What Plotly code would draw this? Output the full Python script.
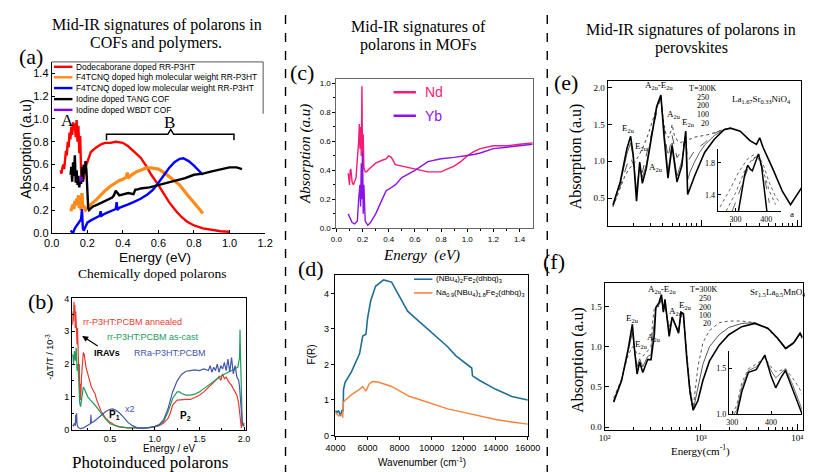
import plotly.graph_objects as go

# ================= DATA =================
# (a) chemically doped polarons
a_red_x = [0.050,0.055,0.060,0.065,0.070,0.075,0.080,0.085,0.090,0.095,0.100,0.105,0.110,0.115,0.120,0.125,0.130,0.135,0.140,0.145,0.150,0.155,0.160,0.165,0.170,0.175,0.180,0.190,
           0.20,0.22,0.25,0.28,0.30,0.33,0.36,0.40,0.43,0.46,0.50,0.53,0.56,0.60,0.63,0.66,0.70,0.73,0.76,0.80,0.85,0.90,0.95,1.00]
a_red_y = [0.55,0.52,0.57,0.60,0.56,0.66,0.72,0.68,0.80,0.75,0.88,0.82,0.93,0.86,0.97,0.90,0.96,0.84,0.99,0.80,0.94,0.70,0.85,0.55,0.50,0.45,0.48,0.58,
           0.62,0.71,0.75,0.78,0.79,0.79,0.80,0.79,0.76,0.72,0.66,0.59,0.51,0.42,0.34,0.27,0.19,0.14,0.10,0.065,0.04,0.025,0.015,0.01]
a_org_x = [0.107,0.115,0.12,0.125,0.13,0.135,0.14,0.145,0.15,0.155,0.16,0.165,0.17,0.175,0.18,0.19,0.20,0.22,0.25,0.28,0.30,0.33,0.36,0.38,0.40,0.42,0.425,0.43,0.45,0.48,0.50,0.53,0.56,0.60,0.64,0.68,0.72,0.76,0.80,0.83,0.85]
a_org_y = [0.19,0.22,0.25,0.21,0.28,0.24,0.30,0.26,0.33,0.22,0.27,0.20,0.35,0.22,0.24,0.20,0.22,0.25,0.29,0.34,0.37,0.41,0.44,0.46,0.47,0.49,0.53,0.48,0.51,0.54,0.55,0.57,0.57,0.56,0.52,0.47,0.42,0.34,0.27,0.21,0.17]
a_blu_x = [0.106,0.12,0.13,0.14,0.15,0.16,0.165,0.17,0.175,0.18,0.19,0.20,0.22,0.25,0.27,0.275,0.28,0.30,0.33,0.36,0.365,0.37,0.38,0.40,0.43,0.46,0.50,0.54,0.57,0.60,0.63,0.66,0.69,0.72,0.74,0.77,0.80,0.83,0.85]
a_blu_y = [0.02,0.0,0.04,0.06,0.08,0.10,0.12,0.21,0.04,0.02,0.06,0.09,0.11,0.13,0.15,0.19,0.15,0.17,0.19,0.21,0.27,0.20,0.22,0.23,0.25,0.27,0.30,0.34,0.38,0.44,0.51,0.57,0.62,0.65,0.655,0.63,0.59,0.54,0.51]
a_blk_x = [0.106,0.11,0.115,0.12,0.125,0.13,0.135,0.14,0.145,0.15,0.155,0.16,0.165,0.17,0.175,0.18,0.185,0.19,0.195,0.20,0.205,0.21,0.23,0.26,0.29,0.32,0.34,0.35,0.36,0.38,0.40,0.43,0.46,0.47,0.48,0.50,0.55,0.60,0.65,0.70,0.75,0.80,0.85,0.90,0.95,1.00,1.04,1.07]
a_blk_y = [0.51,0.58,0.45,0.62,0.50,0.68,0.44,0.55,0.42,0.50,0.40,0.47,0.43,0.58,0.45,0.60,0.52,0.63,0.55,0.30,0.22,0.20,0.23,0.25,0.27,0.29,0.31,0.33,0.37,0.33,0.34,0.35,0.34,0.38,0.38,0.39,0.40,0.42,0.44,0.46,0.48,0.51,0.52,0.54,0.56,0.575,0.575,0.56]
a_pur_x = [0.160,0.165,0.170]
a_pur_y = [0.45,0.49,0.46]
a_legend = ["Dodecaborane doped RR-P3HT", "F4TCNQ doped high molecular weight RR-P3HT",
            "F4TCNQ doped low molecular weight RR-P3HT", "Iodine doped TANG COF", "Iodine doped WBDT COF"]

# (b) photoinduced polarons
b_red_x = [0.08,0.085,0.09,0.095,0.10,0.105,0.11,0.115,0.12,0.125,0.13,0.135,0.14,0.145,0.15,0.155,0.16,0.165,0.17,0.175,0.18,0.19,0.20,0.21,0.22,0.23,0.25,0.27,0.29,0.31,0.33,0.35,0.38,0.40,0.45,0.50,0.55,0.60,0.70,0.80,0.90,1.00,1.05,1.10,1.15,1.18,1.20,1.25,1.30,1.35,1.40,1.45,1.50,1.55,1.60,1.65,1.70,1.72,1.74,1.76,1.78,1.80,1.83,1.86,1.89,1.92,1.94,1.95,1.96,1.97,1.98,1.99,2.0]
b_red_y = [3.2,3.6,3.3,3.9,3.5,3.8,3.1,3.6,3.0,3.4,2.6,3.1,2.2,2.7,1.6,2.0,1.1,1.4,0.9,1.5,1.6,2.0,2.35,2.3,2.1,1.9,1.7,1.5,1.3,1.2,1.1,0.9,0.7,0.55,0.35,0.22,0.14,0.09,0.05,0.04,0.05,0.08,0.12,0.2,0.35,0.55,0.75,0.9,0.92,0.92,0.92,0.98,1.05,1.15,1.28,1.4,1.55,1.62,1.5,1.7,1.55,1.6,1.45,1.35,1.2,1.05,0.8,0.5,0.2,0.05,0.3,0.1,0.2]
b_grn_x = [0.08,0.09,0.10,0.11,0.12,0.13,0.14,0.15,0.16,0.17,0.18,0.19,0.20,0.21,0.23,0.25,0.28,0.30,0.33,0.36,0.40,0.45,0.50,0.55,0.60,0.70,0.80,0.90,1.00,1.05,1.10,1.15,1.20,1.25,1.28,1.30,1.35,1.40,1.45,1.50,1.55,1.60,1.65,1.70,1.75,1.80,1.85,1.90,1.93,1.95,1.955,1.96,1.965,1.97,1.98,2.0]
b_grn_y = [2.3,2.0,2.4,2.1,2.5,1.8,2.0,1.2,0.8,0.7,0.9,1.2,1.3,1.25,1.1,1.0,0.9,0.85,0.75,0.65,0.5,0.32,0.18,0.12,0.08,0.05,0.04,0.05,0.09,0.14,0.25,0.55,0.95,1.15,1.15,1.1,1.05,1.05,1.08,1.15,1.25,1.35,1.45,1.55,1.65,1.72,1.78,1.85,1.9,2.2,3.05,2.3,1.5,0.6,0.2,0.1]
b_blu_x = [0.08,0.09,0.10,0.11,0.115,0.12,0.125,0.13,0.14,0.15,0.17,0.20,0.23,0.26,0.28,0.285,0.29,0.32,0.35,0.40,0.45,0.50,0.53,0.56,0.60,0.65,0.70,0.75,0.80,0.85,0.90,0.95,1.00,1.05,1.10,1.15,1.20,1.25,1.30,1.35,1.40,1.45,1.50,1.55,1.60,1.62,1.64,1.66,1.68,1.70,1.72,1.74,1.76,1.78,1.80,1.82,1.84,1.86,1.88,1.90,1.92,1.94,1.95,1.96,1.97,1.98,2.0]
b_blu_y = [0.15,0.1,0.2,0.12,0.45,0.2,0.5,0.15,0.08,0.05,0.03,0.05,0.1,0.15,0.18,0.45,0.2,0.25,0.32,0.45,0.55,0.62,0.63,0.6,0.52,0.38,0.22,0.12,0.06,0.04,0.05,0.06,0.1,0.15,0.3,0.65,1.15,1.48,1.68,1.78,1.8,1.82,1.8,1.85,1.8,1.95,1.75,1.9,1.8,2.0,1.75,1.95,1.85,2.05,1.8,2.15,1.75,2.2,1.7,1.95,1.6,1.5,1.3,0.9,0.5,0.2,0.1]

# (c) MOFs
c_nd_x = [0.09,0.10,0.105,0.11,0.12,0.13,0.15,0.16,0.17,0.175,0.18,0.185,0.19,0.195,0.20,0.205,0.21,0.22,0.23,0.25,0.30,0.35,0.38,0.40,0.42,0.45,0.50,0.55,0.60,0.65,0.70,0.75,0.80,0.85,0.90,0.95,1.00,1.05,1.10,1.20,1.30,1.40,1.50]
c_nd_y = [0.38,0.30,0.40,0.41,0.32,0.30,0.35,0.45,0.60,0.72,0.55,0.70,0.50,0.98,0.40,0.65,0.42,0.39,0.39,0.41,0.45,0.47,0.48,0.50,0.49,0.44,0.43,0.42,0.41,0.40,0.39,0.39,0.39,0.41,0.43,0.46,0.50,0.53,0.55,0.57,0.57,0.58,0.59]
c_yb_x = [0.09,0.10,0.11,0.12,0.14,0.16,0.17,0.18,0.185,0.19,0.195,0.20,0.205,0.21,0.22,0.24,0.26,0.30,0.35,0.38,0.40,0.45,0.50,0.60,0.70,0.80,0.90,1.00,1.05,1.10,1.20,1.30,1.40,1.50]
c_yb_y = [0.10,0.08,0.07,0.04,0.03,0.05,0.20,0.30,0.15,0.45,0.20,0.52,0.10,0.30,0.05,0.02,0.04,0.10,0.20,0.26,0.27,0.30,0.35,0.40,0.46,0.48,0.49,0.50,0.51,0.52,0.55,0.56,0.57,0.58]
c_legend = ["Nd", "Yb"]

# (d) MOFs, F(R)
d_blu_x = [4000,4100,4200,4300,4400,4480,4500,4600,5000,5500,5700,5900,6000,6200,6500,7000,7500,8000,8500,9000,10000,11000,11500,12500,12550,13000,14000,15000,16000]
d_blu_y = [0.70,0.65,0.70,0.55,0.70,0.70,1.30,1.50,1.80,2.30,2.80,2.85,3.30,3.80,4.20,4.38,4.32,3.90,3.50,3.30,2.90,2.50,2.25,1.90,1.68,1.55,1.30,1.10,1.00]
d_org_x = [4000,4200,4400,4450,4500,5000,5500,5700,5900,6100,6300,6700,7500,8000,8600,9000,10000,11000,12000,13000,14000,15000,16000]
d_org_y = [0.65,0.55,0.60,0.50,0.95,1.15,1.30,1.38,1.25,1.45,1.52,1.50,1.38,1.25,1.10,1.05,0.90,0.75,0.65,0.55,0.45,0.38,0.32]

# (e) La1.67Sr0.33NiO4 (energy in cm-1)
e_20_x = [122,145,170,186,198,214,231,246,270,315,346,383,413,454,501,563,632,694,727,864,1090,1375,1735,2024,2554,3222,3765,4065,4399,5551,7006,8502,9931,11577]
e_20_y = [0.41,0.72,1.17,1.34,1.08,0.46,0.99,0.70,0.90,1.39,1.74,1.90,1.34,0.77,1.21,0.72,0.94,1.41,0.55,0.81,1.12,1.30,1.43,1.45,1.41,1.28,1.23,1.32,1.19,0.90,0.59,0.41,0.55,0.68]
e_100_x = [122,145,170,186,198,214,231,246,270,315,346,383,413,454,501,563,632,694,727,766,864,967,1090,1375,1735,2024]
e_100_y = [0.40,0.70,1.10,1.25,1.05,0.60,0.95,0.78,0.95,1.40,1.72,1.88,1.40,0.85,1.25,0.80,1.00,1.38,0.75,0.85,1.00,1.12,1.22,1.35,1.43,1.45]
e_200_x = [122,145,170,186,214,246,315,383,413,454,501,563,632,694,727,864,1090,1375,1735,2024]
e_200_y = [0.39,0.66,0.95,1.05,0.85,0.85,1.45,1.87,1.45,1.05,1.35,1.05,1.15,1.33,1.00,1.15,1.25,1.38,1.44,1.45]
e_300_x = [122,142,162,180,204,227,256,285,314,343,372,383,401,431,460,490,501,529,569,619,669,699,766,867,967,1170,1478,1788,2024]
e_300_y = [0.38,0.62,0.80,0.90,0.98,1.08,1.22,1.38,1.55,1.72,1.85,1.88,1.60,1.38,1.32,1.42,1.50,1.35,1.28,1.25,1.30,1.33,1.30,1.33,1.34,1.36,1.40,1.44,1.45]
# (e) inset
ei_20_x = [310,320,330,340,348,355,365,375,385,395,402]
ei_20_y = [1.20,1.45,1.65,1.77,1.72,1.70,1.82,1.91,1.75,1.40,1.20]
ei_a_x = [250,280,310,340,360,375,390,410,430,445]
ei_a_y = [1.25,1.45,1.68,1.85,1.90,1.88,1.78,1.55,1.38,1.30]
ei_b_x = [270,300,330,355,372,390,410,430]
ei_b_y = [1.20,1.42,1.70,1.85,1.88,1.70,1.45,1.28]
ei_c_x = [290,315,340,360,378,395,410]
ei_c_y = [1.20,1.45,1.72,1.85,1.90,1.60,1.30]

# (f) Sr1.5La0.5MnO4
f_x = [124,150,176,194,205,217,231,249,280,303,314,328,340,367,389,407,423,446,468,502,543,586,619,658,711,768,830,931,1047,1224,1547,1946,2654,3618,4947,6225,7566,9174,10700,11224]
f_20_y = [0.31,0.58,0.98,1.28,0.94,0.66,0.81,0.68,0.84,0.84,0.98,1.15,1.49,1.55,1.65,1.43,1.59,1.31,1.13,1.37,1.27,1.17,1.43,1.41,0.86,0.45,0.21,0.33,0.58,0.82,1.02,1.15,1.25,1.29,1.23,1.11,0.98,1.05,1.17,1.12]
f_100_y = [0.33,0.59,0.95,1.18,0.95,0.75,0.85,0.75,0.88,0.90,1.10,1.30,1.48,1.52,1.63,1.44,1.55,1.33,1.18,1.36,1.27,1.19,1.41,1.39,0.90,0.42,0.21,0.48,0.78,1.00,1.15,1.24,1.29,1.30,1.23,1.10,0.97,1.04,1.16,1.11]
f_300_y = [0.36,0.60,0.90,1.00,0.98,0.90,0.92,0.88,0.95,1.00,1.30,1.48,1.50,1.50,1.60,1.45,1.50,1.35,1.25,1.35,1.28,1.20,1.38,1.35,0.95,0.50,0.24,0.75,1.05,1.20,1.30,1.32,1.32,1.30,1.22,1.10,0.97,1.04,1.16,1.10]
# (f) inset
fi_x = [300,312,325,342,362,384,400,412,425,437,455,471,480]
fi_20_y = [0.95,1.00,1.25,1.46,1.49,1.65,1.42,1.29,1.40,1.48,1.28,1.10,1.00]
fi_100_y = [0.97,1.05,1.30,1.48,1.52,1.63,1.48,1.40,1.45,1.50,1.33,1.15,1.05]
fi_300_y = [1.00,1.10,1.35,1.50,1.55,1.62,1.52,1.47,1.48,1.50,1.40,1.30,1.22]

# ================= FIGURE =================
W, H = 813, 472
SERIF = "Liberation Serif"
SANS = "Liberation Sans"


def fx(px):
    return px / W


def fy(py):
    return 1 - py / H


fig = go.Figure()


def nm(n, a):
    return a if n == 1 else f"{a}{n}"


def add(n, x, y, color, width=1.5, dash="solid"):
    fig.add_trace(go.Scatter(x=x, y=y, mode="lines", xaxis=nm(n, "x"), yaxis=nm(n, "y"),
                             line=dict(color=color, width=width, dash=dash), showlegend=False,
                             hoverinfo="skip"))


# (a)
add(1, a_red_x, a_red_y, "#ff0000", 2.4)
add(1, a_org_x, a_org_y, "#ff8c1a", 3.2)
add(1, a_blu_x, a_blu_y, "#0000ff", 2.4)
add(1, a_blk_x, a_blk_y, "#000000", 2.4)
add(1, a_pur_x, a_pur_y, "#8000ff", 2.4)
# (b)
add(2, b_red_x, b_red_y, "#e83a30", 1.2)
add(2, b_grn_x, b_grn_y, "#209a5a", 1.2)
add(2, b_blu_x, b_blu_y, "#4455aa", 1.2)
# (c)
add(3, c_nd_x, c_nd_y, "#f21d76", 1.4)
add(3, c_yb_x, c_yb_y, "#8a14e6", 1.4)
# (d)
add(4, d_blu_x, d_blu_y, "#1f6e98", 1.6)
add(4, d_org_x, d_org_y, "#f5843c", 1.4)
# (e)
add(5, e_300_x, e_300_y, "#444444", 1.0, "dot")
add(5, e_200_x, e_200_y, "#555555", 1.0, "dash")
add(5, e_100_x, e_100_y, "#333333", 0.8)
add(5, e_20_x, e_20_y, "#000000", 1.6)
add(6, ei_a_x, ei_a_y, "#555555", 0.9, "dot")
add(6, ei_b_x, ei_b_y, "#555555", 0.9, "dot")
add(6, ei_c_x, ei_c_y, "#555555", 0.9, "dash")
add(6, ei_20_x, ei_20_y, "#000000", 1.5)
# (f)
add(7, f_x, f_300_y, "#555555", 1.0, "dot")
add(7, f_x, f_100_y, "#444444", 0.9)
add(7, f_x, f_20_y, "#000000", 1.6)
add(8, fi_x, fi_300_y, "#555555", 0.9, "dot")
add(8, fi_x, fi_100_y, "#666666", 0.9)
add(8, fi_x, fi_20_y, "#000000", 1.5)


def axis(dom, rng, font_size, family=SANS, **kw):
    d = dict(domain=dom, range=rng, showgrid=False, zeroline=False, showline=True,
             linecolor="black", linewidth=1, ticks="outside", ticklen=4, tickcolor="black",
             tickwidth=1, tickfont=dict(family=family, size=font_size, color="black"))
    d.update(kw)
    return d


lay = {}
# (a)
lay["xaxis"] = axis([fx(35.7), fx(255)], [0, 1.2], 11, anchor="y", ticks="inside", ticklen=3,
                    tickvals=[0, 0.2, 0.4, 0.6, 0.8, 1.0, 1.2], tickformat=".1f")
lay["yaxis"] = axis([fy(225.7), fy(51)], [0, 1.5], 11, anchor="x", ticks="inside", ticklen=3,
                    tickvals=[0, 0.2, 0.4, 0.6, 0.8, 1.0, 1.2, 1.4], tickformat=".1f")
# (b)
lay["xaxis2"] = axis([fx(56.7), fx(235)], [0.075, 2.018], 9, anchor="y2", mirror=True, ticks="inside",
                     tickvals=[0.5, 1.0, 1.5, 2.0], tickformat=".1f", ticklen=3,
                     minor=dict(ticks="inside", tickvals=[0.25, 0.75, 1.25, 1.75], ticklen=2))
lay["yaxis2"] = axis([fy(427.3), fy(291.7)], [-0.02, 4.03], 9, anchor="x2", mirror=True, ticks="inside",
                     tickvals=[0, 1, 2, 3, 4], ticklen=3,
                     minor=dict(ticks="inside", tickvals=[0.5, 1.5, 2.5, 3.5], ticklen=2))
# (c)
lay["xaxis3"] = axis([fx(328.3), fx(530)], [0, 1.5], 8, anchor="y3", mirror=True,
                     tickvals=[0, 0.2, 0.4, 0.6, 0.8, 1.0, 1.2, 1.4], tickformat=".1f", ticklen=3,
                     linecolor="#666666", minor=dict(ticks="outside", tickvals=[0.1, 0.3, 0.5, 0.7, 0.9, 1.1, 1.3], ticklen=2))
lay["yaxis3"] = axis([fy(221), fy(68)], [0, 1.034], 8, anchor="x3", mirror=True,
                     tickvals=[0, 0.2, 0.4, 0.6, 0.8, 1.0], tickformat=".1f", ticklen=3,
                     linecolor="#666666", minor=dict(ticks="outside", tickvals=[0.1, 0.3, 0.5, 0.7, 0.9], ticklen=2))
# (d)
lay["xaxis4"] = axis([fx(326.7), fx(525)], [3960, 16000], 9, anchor="y4", mirror=True,
                     tickvals=[4000, 6000, 8000, 10000, 12000, 14000, 16000], tickformat="d", ticklen=3)
lay["yaxis4"] = axis([fy(433.3), fy(268.3)], [-0.017, 4.53], 9, anchor="x4", mirror=True,
                     tickvals=[0, 1, 2, 3, 4], ticklen=3)
# (e)
minor_log = [200, 300, 400, 500, 600, 700, 800, 900, 2000, 3000, 4000, 5000, 6000, 7000, 8000, 9000]
lay["xaxis5"] = axis([fx(607), fx(806)], [2.03, 4.04], 9, SERIF, anchor="y5", mirror=True, type="log",
                     ticks="inside", ticklen=6, tickvals=[1000, 10000], showticklabels=False,
                     minor=dict(ticks="inside", tickvals=minor_log, ticklen=3))
lay["yaxis5"] = axis([fy(218.3), fy(70)], [0.126, 2.097], 9, SERIF, anchor="x5", mirror=True,
                     ticks="inside", ticklen=4, tickvals=[0.5, 1.0, 1.5, 2.0], tickformat=".1f")
lay["xaxis6"] = axis([fx(720), fx(785)], [242, 447], 8, SERIF, anchor="y6", ticks="inside", ticklen=3,
                     tickvals=[300, 400])
lay["yaxis6"] = axis([fy(203.3), fy(140)], [1.2, 1.97], 8, SERIF, anchor="x6", ticks="inside", ticklen=3,
                     tickvals=[1.4, 1.8], tickformat=".1f")
# (f)
lay["xaxis7"] = axis([fx(604), fx(807.7)], [2.0, 4.058], 9, SERIF, anchor="y7", mirror=True, type="log",
                     ticks="inside", ticklen=6, tickvals=[100, 1000, 10000], ticktext=["10²", "10³", "10⁴"],
                     minor=dict(ticks="inside", tickvals=minor_log, ticklen=3))
lay["yaxis7"] = axis([fy(426.7), fy(276.7)], [-0.033, 1.796], 9, SERIF, anchor="x7", mirror=True,
                     ticks="inside", ticklen=4, tickvals=[0.0, 0.5, 1.0, 1.5], tickformat=".1f")
lay["xaxis8"] = axis([fx(731.7), fx(807)], [291.7, 480], 8, SERIF, anchor="y8", ticks="inside", ticklen=3,
                     tickvals=[300, 400])
lay["yaxis8"] = axis([fy(411), fy(346.7)], [1.0, 1.69], 8, SERIF, anchor="x8", ticks="inside", ticklen=3,
                     tickvals=[1.0, 1.5], tickformat=".1f")

ann = []


def txt(px, py, s, size, family=SERIF, color="black", angle=0, xanchor="center", bold=False, italic=False):
    if bold:
        s = f"<b>{s}</b>"
    if italic:
        s = f"<i>{s}</i>"
    ann.append(dict(x=fx(px), y=fy(py), xref="paper", yref="paper", text=s, showarrow=False,
                    font=dict(family=family, size=size, color=color), textangle=angle,
                    xanchor=xanchor, yanchor="middle"))


# titles
txt(144, 13, "Mid-IR signatures of polarons in", 16)
txt(143, 32, "COFs and polymers.", 16)
txt(413, 15, "Mid-IR signatures of", 16)
txt(412, 34, "polarons in MOFs", 16)
txt(693, 18, "Mid-IR signatures of polarons in", 16)
txt(693, 37, "perovskites", 16)
txt(139, 267, "Chemically doped polarons", 13.5)
txt(137, 460, "Photoinduced polarons", 17)
# panel letters
for px, py, s in [(14, 45, "(a)"), (25, 296, "(b)"), (293, 62, "(c)"), (302, 262, "(d)"),
                  (564, 72, "(e)"), (552, 255, "(f)")]:
    txt(px, py, s, 22)

# (a) axis titles, legend, labels
txt(9, 140, "Absorption (a.u)", 14, SANS, angle=-90)
txt(142, 251, "Energy (eV)", 13.5, SANS)
a_cols = ["#ff0000", "#ff8c1a", "#0000ff", "#000000", "#8000ff"]
a_rows = [56, 66.7, 77.7, 89, 100]
shapes = []
for lab, col, ry in zip(a_legend, a_cols, a_rows):
    shapes.append(dict(type="line", xref="paper", yref="paper", x0=fx(38), x1=fx(57), y0=fy(ry), y1=fy(ry),
                       line=dict(color=col, width=2.4)))
    txt(59, ry, lab, 8.4, SANS, xanchor="left")
shapes.append(dict(type="line", xref="paper", yref="paper", x0=fx(35.7), x1=fx(253), y0=fy(51), y1=fy(51),
                   line=dict(color="#555555", width=1)))
shapes.append(dict(type="line", xref="paper", yref="paper", x0=fx(253), x1=fx(253), y0=fy(51), y1=fy(104),
                   line=dict(color="#555555", width=1)))
txt(52, 111, "A", 17)
txt(157, 113, "B", 17)
br = [(92, 131), (92, 125), (155, 125), (158, 120), (161, 125), (223, 125), (223, 131)]
path = "M " + " L ".join(f"{fx(p[0]):.5f},{fy(p[1]):.5f}" for p in br)
shapes.append(dict(type="path", xref="paper", yref="paper", path=path, line=dict(color="black", width=1.5)))

# (b) labels
txt(33, 352, "-ΔT/T / 10<sup>-3</sup>", 9, SANS, angle=-90)
txt(157, 446, "Energy / eV", 10, SANS)
txt(119, 317, "rr-P3HT:PCBM annealed", 9, SANS, color="#e83a30")
txt(140, 332, "rr-P3HT:PCBM as-cast", 9, SANS, color="#209a5a")
txt(157, 348, "RRa-P3HT:PCBM", 9, SANS, color="#4455aa")
txt(92, 348, "IRAVs", 9, SANS, bold=True)
txt(100, 412, "P<sub>1</sub>", 10, SANS, bold=True)
txt(116, 406, "x2", 9, SANS, color="#4455aa")
txt(173, 413, "P<sub>2</sub>", 10, SANS, bold=True)
ann.append(dict(x=fx(67), y=fy(331), xref="paper", yref="paper", ax=17, ay=11, axref="pixel", ayref="pixel",
                showarrow=True, arrowhead=2, arrowsize=1, arrowwidth=1.2, arrowcolor="black", text=""))

# (c) labels
txt(297, 145, "Absorption (a.u)", 15, SERIF, angle=-90, italic=True)
txt(416, 249, "Energy  (eV)", 15, SERIF, italic=True)
for ry, col, lab in [(82, "#f21d76", c_legend[0]), (106, "#8a14e6", c_legend[1])]:
    shapes.append(dict(type="line", xref="paper", yref="paper", x0=fx(387), x1=fx(410), y0=fy(ry), y1=fy(ry),
                       line=dict(color=col, width=2.5)))
    txt(417, ry, lab, 14, SANS, color=col, xanchor="left")

# (d) labels
txt(303, 350, "F(R)", 10, SANS, angle=-90)
txt(416, 460, "Wavenumber (cm<sup>-1</sup>)", 10, SANS)
for ry, col, lab in [(273, "#1f6e98", "(NBu<sub>4</sub>)<sub>2</sub>Fe<sub>2</sub>(dhbq)<sub>3</sub>"),
                     (287, "#f5843c", "Na<sub>0.9</sub>(NBu<sub>4</sub>)<sub>1.8</sub>Fe<sub>2</sub>(dhbq)<sub>3</sub>")]:
    shapes.append(dict(type="line", xref="paper", yref="paper", x0=fx(408), x1=fx(427), y0=fy(ry), y1=fy(ry),
                       line=dict(color=col, width=1.6)))
    txt(429, ry, lab, 8, SANS, xanchor="left")

# (e) labels
txt(574, 147, "Absorption (a.u)", 16, SERIF, angle=-90)
txt(660, 75, "A<sub>2u</sub>-E<sub>2u</sub>", 9)
txt(705, 78, "T=300K", 8)
for py, s in [(87, "250"), (96, "200"), (105, "100"), (114, "20")]:
    txt(713, py, s, 8, xanchor="right")
txt(765, 89, "La<sub>1.67</sub>Sr<sub>0.33</sub>NiO<sub>4</sub>", 9)
txt(628, 119, "E<sub>2u</sub>", 9)
txt(642, 137, "E<sub>2u</sub>", 9)
txt(657, 159, "A<sub>2u</sub>", 9)
txt(675, 105, "A<sub>2u</sub>", 9)
txt(690, 113, "E<sub>2u</sub>", 9)
txt(797, 206, "a", 9)

# (f) labels
txt(577, 355, "Absorption (a.u)", 16, SERIF, angle=-90)
txt(703, 448, "Energy(cm<sup>-1</sup>)", 11, SERIF)
txt(663, 283, "A<sub>2u</sub>-E<sub>2u</sub>", 9)
txt(706, 284, "T=300K", 8)
for py, s in [(293, "250"), (301.5, "200"), (310, "100"), (318.5, "20")]:
    txt(715, py, s, 8, xanchor="right")
txt(782, 287, "Sr<sub>1.5</sub>La<sub>0.5</sub>MnO<sub>4</sub>", 9)
txt(633, 313, "E<sub>2u</sub>", 9)
txt(642, 340, "E<sub>2u</sub>", 9)
txt(655, 333, "A<sub>2u</sub>", 9)
txt(677, 306, "A<sub>2u</sub>", 9)
txt(687, 300, "E<sub>2u</sub>", 9)

# dashed separators
for px in [276, 545]:
    shapes.append(dict(type="line", xref="paper", yref="paper", x0=fx(px), x1=fx(px), y0=0, y1=1,
                       line=dict(color="black", width=1.4, dash="dash")))

fig.update_layout(width=W, height=H, margin=dict(l=0, r=0, t=0, b=0), paper_bgcolor="white",
                  plot_bgcolor="rgba(0,0,0,0)", showlegend=False, annotations=ann, shapes=shapes, **lay)
fig.write_html("out.html")
